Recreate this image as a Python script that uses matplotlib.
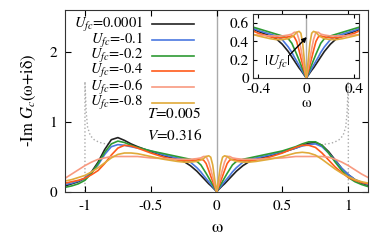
import numpy as np
import matplotlib
matplotlib.use("Agg")
import matplotlib.pyplot as plt

plt.rcParams['font.family'] = ['STIXGeneral', 'DejaVu Serif']
plt.rcParams['mathtext.fontset'] = 'stix'

# omega grid
w = [-1.15, -1.1, -1.05, -1.0, -0.95, -0.9, -0.85, -0.8, -0.75, -0.7, -0.65, -0.6,
     -0.5, -0.4, -0.3, -0.25, -0.2, -0.15, -0.12, -0.1, -0.08, -0.06, -0.045, -0.03,
     -0.015, 0.0,
     0.015, 0.03, 0.045, 0.06, 0.08, 0.1, 0.12, 0.15, 0.2, 0.25, 0.3, 0.4, 0.5,
     0.6, 0.65, 0.7, 0.75, 0.8, 0.85, 0.9, 0.95, 1.0, 1.05, 1.1, 1.15]

labels = ["0.0001", "-0.1", "-0.2", "-0.4", "-0.6", "-0.8"]
colors = ["#222222", "#4a78e0", "#2e9a33", "#ff5a1a", "#f89a80", "#e0aa3a"]

a_0001 = [0.08, 0.11, 0.14, 0.19, 0.28, 0.42, 0.6, 0.74, 0.77, 0.73, 0.68, 0.64,
          0.57, 0.51, 0.46, 0.43, 0.37, 0.29, 0.23, 0.19, 0.15, 0.11, 0.085, 0.057,
          0.028, 0.0,
          0.028, 0.057, 0.085, 0.11, 0.15, 0.19, 0.23, 0.29, 0.37, 0.43, 0.46, 0.51, 0.56,
          0.62, 0.66, 0.69, 0.7, 0.66, 0.57, 0.45, 0.33, 0.24, 0.17, 0.12, 0.09]
a_01 = [0.1, 0.12, 0.15, 0.19, 0.27, 0.38, 0.53, 0.64, 0.67, 0.66, 0.64, 0.62,
        0.58, 0.52, 0.48, 0.46, 0.42, 0.34, 0.28, 0.23, 0.185, 0.14, 0.105, 0.07,
        0.035, 0.0,
        0.035, 0.07, 0.105, 0.14, 0.185, 0.23, 0.28, 0.34, 0.42, 0.46, 0.48, 0.52, 0.57,
        0.62, 0.65, 0.67, 0.68, 0.64, 0.55, 0.44, 0.33, 0.24, 0.17, 0.13, 0.1]
a_02 = [0.06, 0.08, 0.11, 0.16, 0.26, 0.4, 0.56, 0.68, 0.72, 0.7, 0.66, 0.63,
        0.58, 0.54, 0.5, 0.48, 0.46, 0.43, 0.38, 0.32, 0.26, 0.195, 0.145, 0.097,
        0.048, 0.0,
        0.048, 0.097, 0.145, 0.195, 0.26, 0.32, 0.38, 0.43, 0.46, 0.48, 0.5, 0.54, 0.58,
        0.64, 0.68, 0.71, 0.71, 0.66, 0.55, 0.42, 0.3, 0.2, 0.14, 0.1, 0.07]
a_04 = [0.12, 0.14, 0.16, 0.19, 0.24, 0.3, 0.4, 0.52, 0.62, 0.66, 0.65, 0.62,
        0.55, 0.49, 0.45, 0.44, 0.44, 0.45, 0.46, 0.45, 0.4, 0.3, 0.22, 0.145,
        0.07, 0.0,
        0.07, 0.145, 0.22, 0.3, 0.4, 0.45, 0.46, 0.45, 0.44, 0.44, 0.45, 0.49, 0.55,
        0.63, 0.66, 0.66, 0.63, 0.55, 0.45, 0.35, 0.27, 0.2, 0.16, 0.13, 0.11]
a_06 = [0.19, 0.25, 0.31, 0.37, 0.42, 0.46, 0.48, 0.5, 0.5, 0.5, 0.5, 0.5,
        0.48, 0.47, 0.46, 0.46, 0.46, 0.47, 0.48, 0.5, 0.5, 0.42, 0.32, 0.21,
        0.1, 0.0,
        0.1, 0.21, 0.32, 0.42, 0.5, 0.5, 0.48, 0.47, 0.46, 0.46, 0.46, 0.47, 0.48,
        0.5, 0.5, 0.5, 0.5, 0.5, 0.49, 0.46, 0.42, 0.37, 0.31, 0.25, 0.2]
a_08 = [0.15, 0.17, 0.2, 0.23, 0.28, 0.34, 0.41, 0.48, 0.53, 0.55, 0.55, 0.54,
        0.5, 0.46, 0.43, 0.42, 0.42, 0.43, 0.45, 0.47, 0.5, 0.51, 0.49, 0.38,
        0.18, 0.0,
        0.18, 0.38, 0.49, 0.51, 0.5, 0.47, 0.45, 0.43, 0.42, 0.42, 0.43, 0.46, 0.5,
        0.55, 0.56, 0.55, 0.52, 0.46, 0.39, 0.32, 0.26, 0.21, 0.17, 0.14, 0.12]
curves = [a_0001, a_01, a_02, a_04, a_06, a_08]

# non interacting reference (gray dotted), only the parts outside the bundle
g_w_left = [-1.0, -1.0, -0.99, -0.98, -0.96, -0.93, -0.9, -0.87, -0.84, -0.8]
g_v_left = [0.0, 1.57, 1.12, 0.92, 0.8, 0.74, 0.71, 0.69, 0.68, 0.67]
g_w_right = [1.0, 1.0, 0.99, 0.98, 0.96, 0.93, 0.9, 0.87, 0.84, 0.8]
g_v_right = [0.0, 1.57, 1.12, 0.92, 0.8, 0.74, 0.71, 0.69, 0.68, 0.67]

W, H = 374, 246
fig = plt.figure(figsize=(W/100, H/100), dpi=100)

# main axes
ax = fig.add_axes([65.2/W, (H-191.5)/H, 302.9/W, 182/H])
ax.axvline(0, color="#aaaaaa", lw=1.0, zorder=1)
ax.plot(g_w_left, g_v_left, ls=":", color="#aaaaaa", lw=1.0, zorder=1)
ax.plot(g_w_right, g_v_right, ls=":", color="#aaaaaa", lw=1.0, zorder=1)
for v, c in zip(curves, colors):
    ax.plot(w, v, color=c, lw=1.2, zorder=2)
ax.set_xlim(-1.15, 1.15)
ax.set_ylim(0, 2.6)
ax.set_xticks([-1, -0.5, 0, 0.5, 1])
ax.set_xticklabels(["-1", "-0.5", "0", "0.5", "1"])
ax.set_yticks([0, 1, 2])
ax.tick_params(direction="in", top=True, right=True, labelsize=11, length=4, pad=6)
ax.set_xlabel("ω", fontsize=13, labelpad=5)
ax.set_ylabel(r"-Im $G_c$(ω+iδ)", fontsize=12, labelpad=8)
for s in ax.spines.values():
    s.set_color("#333333")

# legend drawn by hand (gnuplot style: text right aligned, sample to the right)
ys = [0.919, 0.832, 0.746, 0.660, 0.574, 0.487]
for lab, c, y in zip(labels, colors, ys):
    ax.text(0.257, y, r"$U_{fc}$=" + lab, transform=ax.transAxes, ha="right",
            va="center", fontsize=10.5)
    ax.plot([0.287, 0.424], [y, y], transform=ax.transAxes, color=c, lw=1.2)
ax.text(0.27, 0.431, r"$T$=0.005", transform=ax.transAxes, ha="left", va="center", fontsize=11)
ax.text(0.27, 0.31, r"$V$=0.316", transform=ax.transAxes, ha="left", va="center", fontsize=11)

# inset
ins = fig.add_axes([253.3/W, (H-78)/H, 106/W, 64/H])
ins.axvline(0, color="#aaaaaa", lw=1.0, zorder=1)
for v, c in zip(curves, colors):
    ins.plot(w, v, color=c, lw=1.2, zorder=2)
ins.set_xlim(-0.44, 0.44)
ins.set_ylim(0, 0.7)
ins.set_xticks([-0.4, 0, 0.4])
ins.set_xticklabels(["-0.4", "0", "0.4"])
ins.set_yticks([0, 0.2, 0.4, 0.6])
ins.set_yticklabels(["0", "0.2", "0.4", "0.6"])
ins.tick_params(direction="in", top=True, right=True, labelsize=11, length=3, pad=3)
ins.set_xlabel("ω", fontsize=11, labelpad=1)
ins.annotate("", xy=(0.02, 0.47), xytext=(-0.155, 0.23),
             arrowprops=dict(arrowstyle="-|>", color="black", lw=1.0, mutation_scale=7))
ins.text(-0.24, 0.16, r"$|U_{fc}|$", ha="center", va="center", fontsize=11)
for s in ins.spines.values():
    s.set_color("#333333")

fig.savefig("out.png", dpi=100)
